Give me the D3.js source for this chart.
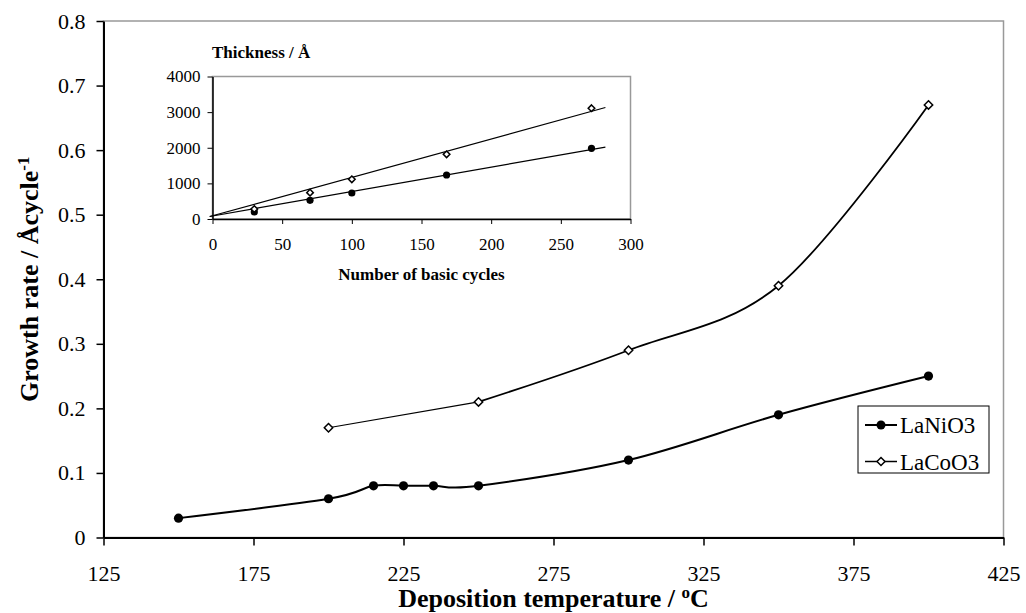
<!DOCTYPE html>
<html lang="en">
  <head>
    <meta charset="utf-8">
    <title>Growth rate vs deposition temperature</title>
    <script type="text/javascript" src="https://d3js.org/d3.v7.min.js"></script>
    <style type="text/css">
      body {
        margin: 0;
        background: #ffffff;
      }
      svg text {
        font-family: "Liberation Serif", "Times New Roman", serif !important;
        fill: #000;
      }
      .axis path, .axis line {
        stroke: #000;
      }
    </style>
  </head>
  <body>
    <div id="placeHere"></div>
    <script type="text/javascript">
      // main chart data
      var temps = [150, 200, 215, 225, 235, 250, 300, 350, 400];
      var laNiO3 = [0.03, 0.06, 0.08, 0.08, 0.08, 0.08, 0.12, 0.19, 0.25];
      var coTemps = [200, 250, 300, 350, 400];
      var laCoO3 = [0.17, 0.21, 0.29, 0.39, 0.67];
      var xTicks = [125, 175, 225, 275, 325, 375, 425];
      var yTicks = [0, 0.1, 0.2, 0.3, 0.4, 0.5, 0.6, 0.7, 0.8];

      // inset data
      var cycles = [30, 70, 100, 168, 272];
      var thickNi = [200, 525, 730, 1235, 1985];
      var thickCo = [280, 740, 1115, 1817, 3110];
      var trendX = [-2, 282];
      var trendNi = [70, 2020];
      var trendCo = [70, 3130];
      var insetXTicks = [0, 50, 100, 150, 200, 250, 300];
      var insetYTicks = [0, 1000, 2000, 3000, 4000];

      var w = 1026;
      var h = 613;
      var serif = "'Liberation Serif', 'Times New Roman', serif";

      var svg = d3.select("#placeHere")
                  .append("svg")
                  .attr("width", w)
                  .attr("height", h)
                  .attr("font-family", serif);

      //main scales
      var x = d3.scaleLinear().domain([125, 425]).range([103.5, 1003.5]);
      var y = d3.scaleLinear().domain([0, 0.8]).range([537.5, 21]);

      // plot frame (grey top / right)
      svg.append("rect")
         .attr("x", x(125)).attr("y", y(0.8))
         .attr("width", x(425) - x(125))
         .attr("height", y(0) - y(0.8))
         .attr("fill", "none")
         .attr("stroke", "#999")
         .attr("stroke-width", 1.5);

      var xAxis = svg.append("g")
         .attr("class", "axis")
         .attr("transform", "translate(0," + y(0) + ")")
         .call(d3.axisBottom(x).tickValues(xTicks).tickSize(8).tickSizeOuter(0).tickPadding(20));
      xAxis.attr("font-family", serif);
      xAxis.selectAll("text").attr("font-size", "22px");
      xAxis.select(".domain").attr("stroke-width", 2);
      xAxis.selectAll(".tick line").attr("stroke-width", 1.5);

      var yAxis = svg.append("g")
         .attr("class", "axis")
         .attr("transform", "translate(" + x(125) + ",0)")
         .call(d3.axisLeft(y).tickValues(yTicks).tickSize(7).tickSizeOuter(0).tickPadding(11)
                 .tickFormat(function(d){ return d === 0 ? "0" : d3.format(".1f")(d); }));
      yAxis.attr("font-family", serif);
      yAxis.selectAll("text").attr("font-size", "22px");
      yAxis.select(".domain").attr("stroke-width", 2);
      yAxis.selectAll(".tick line").attr("stroke-width", 1.5);

      // axis titles
      var xt = svg.append("text")
         .attr("x", (x(125) + x(425)) / 2)
         .attr("y", 607)
         .attr("text-anchor", "middle")
         .attr("font-size", "26px")
         .attr("font-weight", "bold");
      xt.append("tspan").text("Deposition temperature / ");
      xt.append("tspan").attr("baseline-shift", "super").attr("font-size", "17px").text("o");
      xt.append("tspan").text("C");

      var yt = svg.append("text")
         .attr("transform", "translate(38," + (y(0) + y(0.8)) / 2 + ") rotate(-90)")
         .attr("text-anchor", "middle")
         .attr("font-size", "26px")
         .attr("font-weight", "bold");
      yt.append("tspan").text("Growth rate / \u00C5cycle");
      yt.append("tspan").attr("baseline-shift", "super").attr("font-size", "17px").text("-1");

      // lines
      var niPts = temps.map(function(t, i){ return [t, laNiO3[i]]; });
      var coPts = coTemps.map(function(t, i){ return [t, laCoO3[i]]; });

      var smooth = d3.line()
         .x(function(d){ return x(d[0]); })
         .y(function(d){ return y(d[1]); })
         .curve(d3.curveCatmullRom.alpha(0));
      var straight = d3.line()
         .x(function(d){ return x(d[0]); })
         .y(function(d){ return y(d[1]); });

      svg.append("path")
         .attr("d", smooth(niPts))
         .attr("fill", "none").attr("stroke", "#000").attr("stroke-width", 2);

      svg.append("path")
         .attr("d", straight(coPts.slice(0, 2)))
         .attr("fill", "none").attr("stroke", "#000").attr("stroke-width", 1.2);
      svg.append("path")
         .attr("d", smooth(coPts.slice(1)))
         .attr("fill", "none").attr("stroke", "#000").attr("stroke-width", 1.8);

      // markers
      var diamond = function(s){ return "M0," + (-s) + "L" + s + ",0L0," + s + "L" + (-s) + ",0Z"; };

      svg.selectAll("circle.ni")
         .data(niPts)
         .enter()
         .append("circle")
         .attr("class", "ni")
         .attr("cx", function(d){ return x(d[0]); })
         .attr("cy", function(d){ return y(d[1]); })
         .attr("r", 4.6)
         .attr("fill", "#000");

      svg.selectAll("path.co")
         .data(coPts)
         .enter()
         .append("path")
         .attr("class", "co")
         .attr("transform", function(d){ return "translate(" + x(d[0]) + "," + y(d[1]) + ")"; })
         .attr("d", diamond(4.2))
         .attr("fill", "#fff").attr("stroke", "#000").attr("stroke-width", 1.5);

      // legend
      var lg = svg.append("g").attr("transform", "translate(858,406)");
      lg.append("rect").attr("width", 131).attr("height", 67)
        .attr("fill", "#fff").attr("stroke", "#000").attr("stroke-width", 1);
      var names = ["LaNiO3", "LaCoO3"];
      names.forEach(function(n, i){
        var cy = 19 + i * 36.5;
        lg.append("line").attr("x1", 7).attr("x2", 39).attr("y1", cy).attr("y2", cy)
          .attr("stroke", "#000").attr("stroke-width", i === 0 ? 2 : 1.5);
        if (i === 0) {
          lg.append("circle").attr("cx", 23).attr("cy", cy).attr("r", 4.5).attr("fill", "#000");
        } else {
          lg.append("path").attr("transform", "translate(23," + cy + ")").attr("d", diamond(4))
            .attr("fill", "#fff").attr("stroke", "#000").attr("stroke-width", 1.5);
        }
        lg.append("text").attr("x", 42).attr("y", cy + 8).attr("font-size", "23px").text(n);
      });

      // inset
      var ix = d3.scaleLinear().domain([0, 300]).range([212.5, 630.5]);
      var iy = d3.scaleLinear().domain([0, 4000]).range([219, 76.5]);

      svg.append("rect")
         .attr("x", ix(0)).attr("y", iy(4000))
         .attr("width", ix(300) - ix(0))
         .attr("height", iy(0) - iy(4000))
         .attr("fill", "#fff")
         .attr("stroke", "#999")
         .attr("stroke-width", 1.5);

      var ixAxis = svg.append("g")
         .attr("class", "axis")
         .attr("transform", "translate(0," + iy(0) + ")")
         .call(d3.axisBottom(ix).tickValues(insetXTicks).tickSize(5).tickSizeOuter(0).tickPadding(14)
                 .tickFormat(d3.format("d")));
      ixAxis.attr("font-family", serif);
      ixAxis.selectAll("text").attr("font-size", "17px");
      ixAxis.select(".domain").attr("stroke-width", 1.5);

      var iyAxis = svg.append("g")
         .attr("class", "axis")
         .attr("transform", "translate(" + ix(0) + ",0)")
         .call(d3.axisLeft(iy).tickValues(insetYTicks).tickSize(5).tickSizeOuter(0).tickPadding(7)
                 .tickFormat(d3.format("d")));
      iyAxis.attr("font-family", serif);
      iyAxis.selectAll("text").attr("font-size", "17px");
      iyAxis.select(".domain").attr("stroke-width", 1.5);

      svg.append("text")
         .attr("x", 212).attr("y", 58)
         .attr("font-size", "17px").attr("font-weight", "bold")
         .text("Thickness / \u00C5");
      svg.append("text")
         .attr("x", (ix(0) + ix(300)) / 2).attr("y", 280)
         .attr("text-anchor", "middle")
         .attr("font-size", "17px").attr("font-weight", "bold")
         .text("Number of basic cycles");

      var iline = d3.line()
         .x(function(d){ return ix(d[0]); })
         .y(function(d){ return iy(d[1]); });

      // trend lines
      [trendNi, trendCo].forEach(function(tr){
        svg.append("path")
           .attr("d", iline(trendX.map(function(c, i){ return [c, tr[i]]; })))
           .attr("fill", "none").attr("stroke", "#000").attr("stroke-width", 1.2);
      });

      // inset markers
      svg.selectAll("circle.ini")
         .data(cycles.map(function(c, i){ return [c, thickNi[i]]; }))
         .enter()
         .append("circle")
         .attr("class", "ini")
         .attr("cx", function(d){ return ix(d[0]); })
         .attr("cy", function(d){ return iy(d[1]); })
         .attr("r", 3.6)
         .attr("fill", "#000");

      svg.selectAll("path.ico")
         .data(cycles.map(function(c, i){ return [c, thickCo[i]]; }))
         .enter()
         .append("path")
         .attr("class", "ico")
         .attr("transform", function(d){ return "translate(" + ix(d[0]) + "," + iy(d[1]) + ")"; })
         .attr("d", diamond(3.3))
         .attr("fill", "#fff").attr("stroke", "#000").attr("stroke-width", 1.5);
    </script>
  </body>
</html>
